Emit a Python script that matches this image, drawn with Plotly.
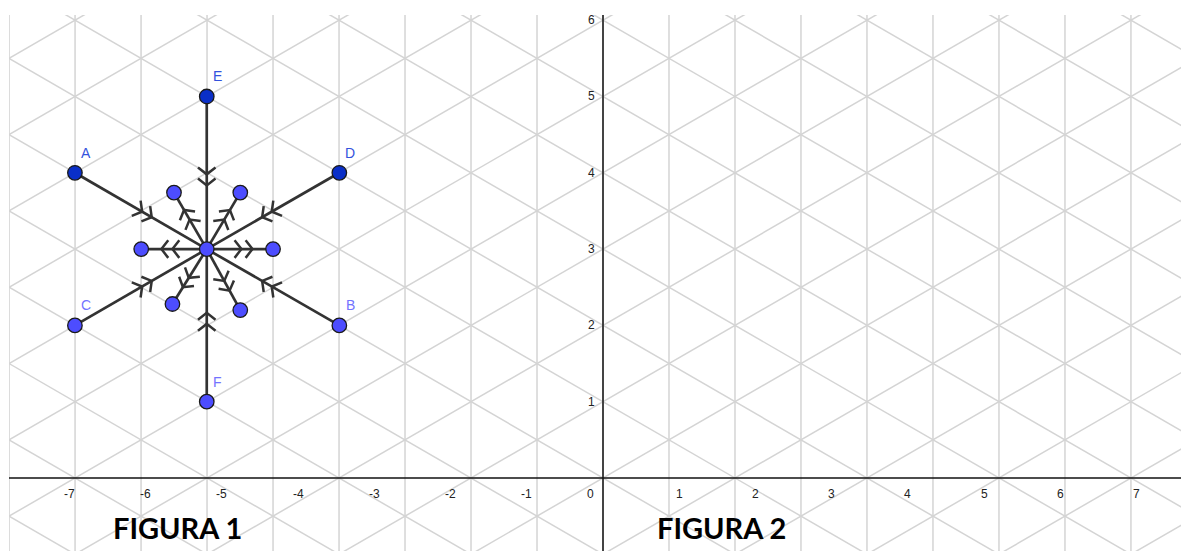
import numpy as np
import plotly.graph_objects as go

# ---------------- data ----------------
point_names = ["A", "B", "C", "D", "E", "F"]
point_x = [-6.93, -3.46, -6.93, -3.46, -5.20, -5.20]
point_y = [4.0, 2.0, 2.0, 4.0, 5.0, 1.0]
point_dark = [True, False, False, True, True, False]

center_x = -5.20
center_y = 3.0

inner_x = [-6.06, -4.33, -5.63, -4.76, -5.65, -4.76]
inner_y = [3.00, 3.00, 3.74, 3.74, 2.28, 2.20]

x_tick_values = [-7, -6, -5, -4, -3, -2, -1, 1, 2, 3, 4, 5, 6, 7]
y_tick_values = [1, 2, 3, 4, 5, 6]

figure_titles = ["FIGURA 1", "FIGURA 2"]
figure_title_x = [-5.59, 1.55]
figure_title_y = [-0.655, -0.655]

# ---------------- view / style ----------------
X_RANGE = [-7.795, 7.69]
Y_RANGE = [-0.957, 6.068]
ISO_DX = np.sqrt(3) / 2      # spacing of vertical grid lines
ISO_SLOPE = 1 / np.sqrt(3)   # slope of diagonal grid lines

GRID_COLOR = "#d4d4d4"
SEG_COLOR = "#333333"
DARK_PT = "#0a2fc8"
LIGHT_PT = "#4d4dff"
DARK_LBL = "#3352dd"
LIGHT_LBL = "#7373ff"

fig = go.Figure()

# ---------------- isometric grid ----------------
gx, gy = [], []
for k in range(-10, 11):
    x = k * ISO_DX
    gx += [x, x, None]
    gy += [-2, 8, None]
xa, xb = -9.0, 9.0
for n in range(-8, 14):
    gx += [xa, xb, None]
    gy += [ISO_SLOPE * xa + n, ISO_SLOPE * xb + n, None]
    gx += [xa, xb, None]
    gy += [-ISO_SLOPE * xa + n, -ISO_SLOPE * xb + n, None]
fig.add_trace(go.Scatter(x=gx, y=gy, mode="lines",
                         line=dict(color=GRID_COLOR, width=1.5),
                         hoverinfo="skip", showlegend=False))

# ---------------- segments ----------------
sx, sy = [], []
for px, py in zip(point_x, point_y):
    sx += [px, center_x, None]
    sy += [py, center_y, None]
for px, py in zip(inner_x, inner_y):
    sx += [center_x, px, None]
    sy += [center_y, py, None]
fig.add_trace(go.Scatter(x=sx, y=sy, mode="lines",
                         line=dict(color=SEG_COLOR, width=2.7),
                         hoverinfo="skip", showlegend=False))


# ---------------- double-arrow decorations ----------------
def chevrons(x0, y0, x1, y1):
    d = np.array([x1 - x0, y1 - y0], dtype=float)
    d /= np.linalg.norm(d)
    nrm = np.array([-d[1], d[0]])
    m = np.array([(x0 + x1) / 2, (y0 + y1) / 2])
    cx, cy = [], []
    for off in (0.02, 0.165):
        v = m + d * off
        back = v - d * 0.09
        p1 = back + nrm * 0.115
        p2 = back - nrm * 0.115
        cx += [p1[0], v[0], p2[0], None]
        cy += [p1[1], v[1], p2[1], None]
    return cx, cy


cxs, cys = [], []
for px, py in zip(point_x, point_y):
    a, b = chevrons(px, py, center_x, center_y)
    cxs += a
    cys += b
for px, py in zip(inner_x, inner_y):
    a, b = chevrons(center_x, center_y, px, py)
    cxs += a
    cys += b
fig.add_trace(go.Scatter(x=cxs, y=cys, mode="lines",
                         line=dict(color=SEG_COLOR, width=2.5),
                         hoverinfo="skip", showlegend=False))

# ---------------- points ----------------
fig.add_trace(go.Scatter(
    x=point_x + inner_x + [center_x],
    y=point_y + inner_y + [center_y],
    mode="markers",
    marker=dict(size=14.5,
                color=[DARK_PT if d else LIGHT_PT for d in point_dark]
                + [LIGHT_PT] * (len(inner_x) + 1),
                line=dict(color="#1a1a1a", width=1.3)),
    hoverinfo="skip", showlegend=False))

annotations = []
for name, px, py, dark in zip(point_names, point_x, point_y, point_dark):
    annotations.append(dict(x=px, y=py, text=name, showarrow=False,
                            xshift=11, yshift=20,
                            font=dict(family="Liberation Sans", size=14,
                                      color=DARK_LBL if dark else LIGHT_LBL)))

# ---------------- axes ----------------
shapes = [
    dict(type="line", xref="x", yref="y", x0=X_RANGE[0], x1=X_RANGE[1],
         y0=0, y1=0, line=dict(color="#111111", width=1.5), layer="above"),
    dict(type="line", xref="x", yref="y", x0=0, x1=0,
         y0=Y_RANGE[0], y1=Y_RANGE[1], line=dict(color="#111111", width=1.5),
         layer="above"),
]
tick_font = dict(family="Liberation Sans", size=12, color="#222222")
for v in x_tick_values:
    annotations.append(dict(x=v, y=0, text=str(v), showarrow=False,
                            yshift=-16, font=tick_font))
annotations.append(dict(x=0, y=0, text="0", showarrow=False,
                        xshift=-13, yshift=-16, font=tick_font))
for v in y_tick_values:
    annotations.append(dict(x=0, y=v, text=str(v), showarrow=False,
                            xanchor="right", xshift=-6, font=tick_font))
annotations.append(dict(x=0, y=-1, text="-1", showarrow=False,
                        xanchor="right", xshift=-6, font=tick_font))

for t, tx, ty in zip(figure_titles, figure_title_x, figure_title_y):
    annotations.append(dict(x=tx, y=ty, text="<b>%s</b>" % t, showarrow=False,
                            font=dict(family="Lato", size=29, color="#000000")))

# the page body adds an 8 px offset, so the figure is sized to end at the window edge
fig.update_layout(
    width=1181, height=543,
    margin=dict(l=1, r=0, t=7, b=0),
    paper_bgcolor="white", plot_bgcolor="white",
    xaxis=dict(range=X_RANGE, visible=False, fixedrange=True),
    yaxis=dict(range=Y_RANGE, visible=False, fixedrange=True),
    shapes=shapes, annotations=annotations, showlegend=False,
)

fig.write_html("out.html")
